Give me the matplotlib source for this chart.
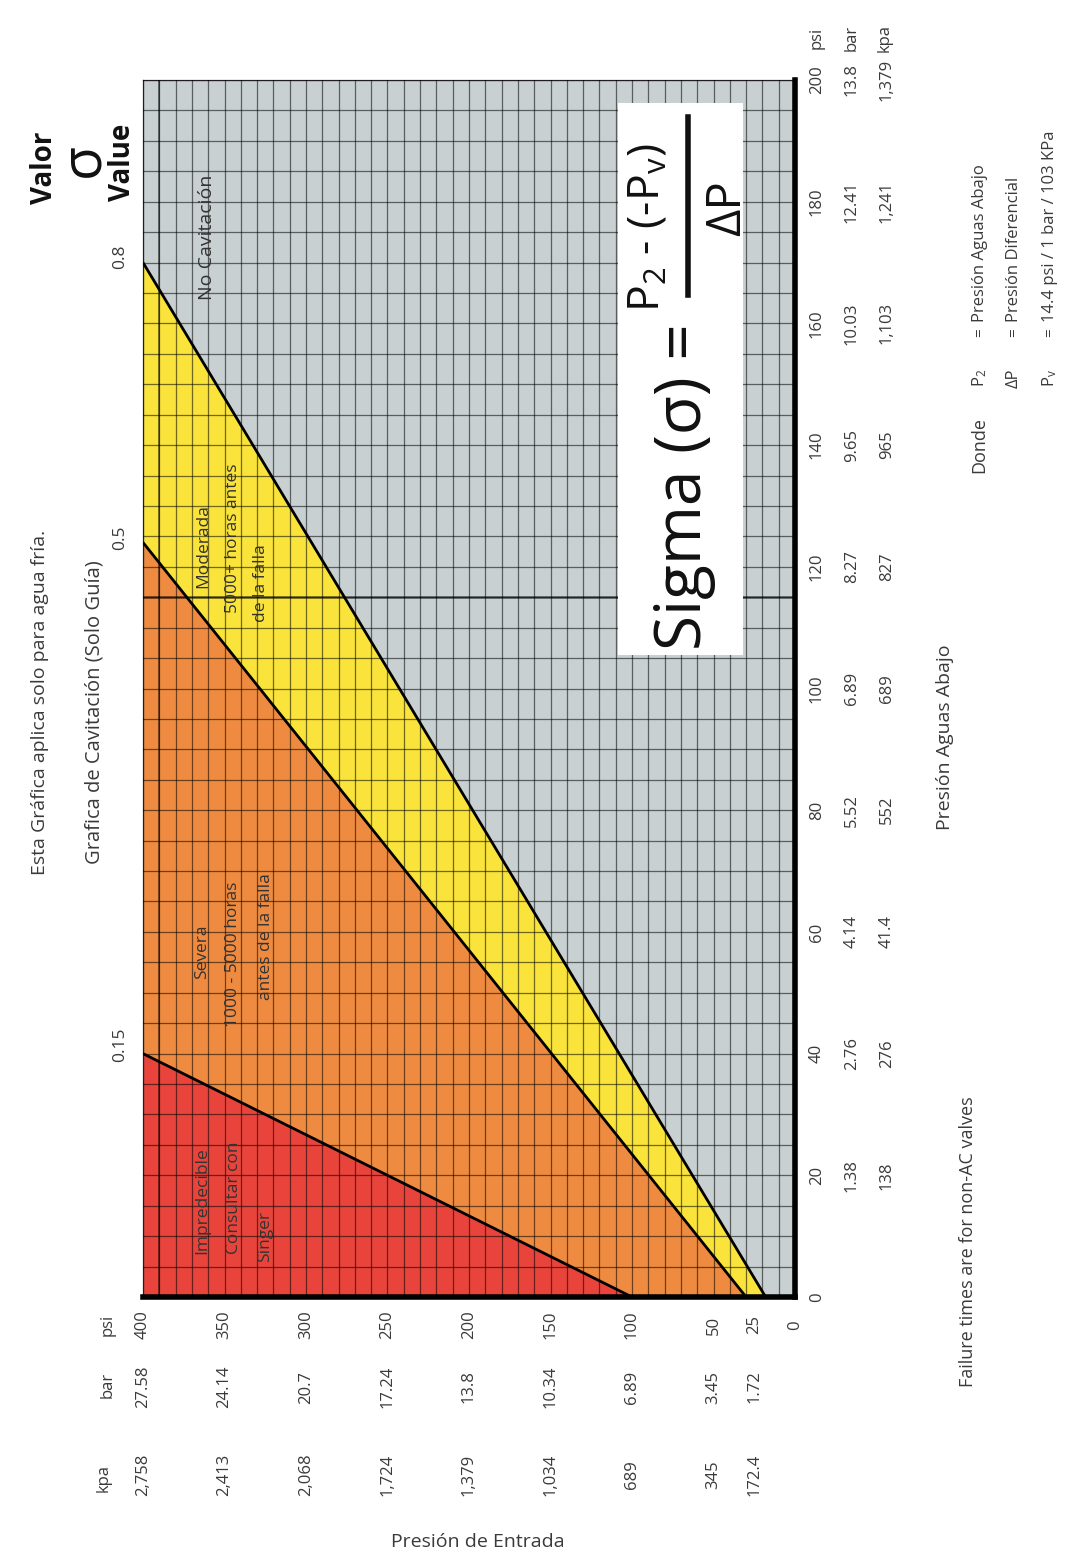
import numpy as np
import matplotlib
matplotlib.use("Agg")
import matplotlib.pyplot as plt
from matplotlib.transforms import blended_transform_factory
from matplotlib.patches import Rectangle
from matplotlib.lines import Line2D

plt.rcParams['font.family'] = ['Open Sans', 'DejaVu Sans']
plt.rcParams['mathtext.fontset'] = 'custom'
plt.rcParams['mathtext.rm'] = 'Open Sans'
plt.rcParams['mathtext.it'] = 'Open Sans:italic'
plt.rcParams['mathtext.bf'] = 'Open Sans:bold'

# ---------------- data ----------------
# Inlet pressure axis (Presión de Entrada)
inlet_psi = [400, 350, 300, 250, 200, 150, 100, 50, 25, 0]
inlet_bar = ['27.58', '24.14', '20.7', '17.24', '13.8', '10.34', '6.89', '3.45', '1.72', '']
inlet_kpa = ['2,758', '2,413', '2,068', '1,724', '1,379', '1,034', '689', '345', '172.4', '']

# Downstream pressure axis (Presión Aguas Abajo)
down_psi = [0, 20, 40, 60, 80, 100, 120, 140, 160, 180, 200]
down_bar = ['', '1.38', '2.76', '4.14', '5.52', '6.89', '8.27', '9.65', '10.03', '12.41', '13.8']
down_kpa = ['', '138', '276', '41.4', '552', '689', '827', '965', '1,103', '1,241', '1,379']

# Sigma boundary lines: (inlet psi, downstream psi) end points
sigma_labels = ['0.15', '0.5', '0.8']
line_inlet = [[100, 400], [30, 400], [18, 400]]
line_down = [[0, 40], [0, 124], [0, 170]]

# Zones (drawn from the largest sigma to the smallest)
zone_colors = ['#e8443c', '#ef8b40', '#fae43c']   # below 0.15, 0.5, 0.8
bg_color = '#c8d0d1'

heavy_grid_down = [115]
heavy_grid_inlet = [390]

# ---------------- figure ----------------
W, H = 1069, 1556
fig = plt.figure(figsize=(W / 100, H / 100), dpi=100)
fig.patch.set_facecolor('white')

L, R, T, B = 143, 795, 80, 1297
ax = fig.add_axes([L / W, 1 - B / H, (R - L) / W, (B - T) / H])
ax.set_xlim(400, 0)
ax.set_ylim(0, 200)
ax.set_facecolor(bg_color)

for i in [2, 1, 0]:
    ax.fill_between(line_inlet[i], line_down[i], 0, color=zone_colors[i], lw=0, zorder=1)

ax.set_xticks(np.arange(0, 401, 10))
ax.set_yticks(np.arange(0, 201, 5))
ax.grid(True, color='black', alpha=0.55, lw=0.9)
ax.set_axisbelow(False)
ax.tick_params(length=0, labelbottom=False, labelleft=False)
for v in heavy_grid_down:
    ax.axhline(v, color='black', alpha=0.6, lw=1.8, zorder=2.6)
for v in heavy_grid_inlet:
    ax.axvline(v, color='black', alpha=0.5, lw=1.4, zorder=2.6)

for i in range(3):
    ax.plot(line_inlet[i], line_down[i], color='black', lw=2.0, zorder=3,
            solid_capstyle='butt')

for s in ['right', 'bottom']:
    ax.spines[s].set_linewidth(4)
    ax.spines[s].set_color('black')
    ax.spines[s].set_zorder(4)
for s in ['left', 'top']:
    ax.spines[s].set_linewidth(0.9)
    ax.spines[s].set_color('#444444')


def ptext(px, py, s, size, ha='center', va='center', rot=90, **kw):
    return fig.text(px / W, 1 - py / H, s, fontsize=size, rotation=rot,
                    rotation_mode='anchor', ha=ha, va=va, **kw)


txt = '#3a3a3a'

# ---- left titles ----
ptext(40, 702, 'Esta Gráfica aplica solo para agua fría.', 14, color=txt)
ptext(95, 712, 'Grafica de Cavitación (Solo Guía)', 14.5, color=txt)
ptext(45, 168, 'Valor', 20, fontweight='bold', color='#111111')
ptext(84, 160, 'σ', 40, color='#111111')
ptext(122, 162, 'Value', 20, fontweight='bold', color='#111111')

sig_y = [1045, 538, 257]
for lab, yy in zip(sigma_labels, sig_y):
    ptext(120, yy, lab, 12.5, color=txt)

# ---- zone labels ----
zone_txt = '#333333'
ptext(207, 237, 'No Cavitación', 14, color=zone_txt)
ptext(203, 546, 'Moderada', 12.5, color=zone_txt)
ptext(233, 538, '5000+ horas antes', 12.5, color=zone_txt)
ptext(261, 583, 'de la falla', 12.5, color=zone_txt)
ptext(202, 952, 'Severa', 12.5, color=zone_txt)
ptext(233, 954, '1000 - 5000 horas', 12.5, color=zone_txt)
ptext(266, 937, 'antes de la falla', 12.5, color=zone_txt)
ptext(202, 1201, 'Impredecible', 12.5, color=zone_txt)
ptext(234, 1198, 'Consultar con', 12.5, color=zone_txt)
ptext(265, 1237, 'Singer', 12.5, color=zone_txt)

# ---- downstream (right) tick labels ----
tr_right = blended_transform_factory(fig.transFigure, ax.transData)
for v, b, k in zip(down_psi, down_bar, down_kpa):
    for px, s in [(817, str(v)), (852, b), (887, k)]:
        if s:
            fig.text(px / W, v, s, transform=tr_right, fontsize=12, rotation=90,
                     rotation_mode='anchor', ha='center', va='center', color=txt)
for px, s in [(817, 'psi'), (852, 'bar'), (885, 'kpa')]:
    ptext(px, 38, s, 12, color=txt)

# ---- inlet (bottom) tick labels ----
tr_bot = blended_transform_factory(ax.transData, fig.transFigure)
for v, b, k in zip(inlet_psi, inlet_bar, inlet_kpa):
    for py, s in [(1325, str(v)), (1387, b), (1475, k)]:
        if s:
            fig.text(v, 1 - py / H, s, transform=tr_bot, fontsize=12, rotation=90,
                     rotation_mode='anchor', ha='center', va='center', color=txt)
for px, py, s in [(108, 1325, 'psi'), (108, 1385, 'bar'), (104, 1478, 'kpa')]:
    ptext(px, py, s, 12, color=txt)

fig.text(478 / W, 1 - 1542 / H, 'Presión de Entrada', fontsize=14, ha='center',
         va='center', color=txt)
ptext(945, 737, 'Presión Aguas Abajo', 14, color=txt)
ptext(968, 1242, 'Failure times are for non-AC valves', 13, color=txt)

# ---- legend of symbols ----
ptext(979, 445, 'Donde', 13, color=txt)
leg_x = [980, 1014, 1050]
leg_sym = ['P$_2$', 'ΔP', 'P$_{\\rm v}$']
leg_desc = ['Presión Aguas Abajo', 'Presión Diferencial', '14.4 psi / 1 bar / 103 KPa']
for x, s, d in zip(leg_x, leg_sym, leg_desc):
    ptext(x, 378, s, 12, color=txt)
    ptext(x, 333, '=', 11, color=txt)
    ptext(x, 322, d, 12, ha='left', color=txt)

# ---- formula box ----
fig.add_artist(Rectangle((618 / W, 1 - 655 / H), (743 - 618) / W, (655 - 103) / H,
                         transform=fig.transFigure, facecolor='white',
                         edgecolor='none', zorder=5))
ptext(701, 650, 'Sigma (σ) =', 46, ha='left', va='baseline', color='#111111', zorder=6)
ptext(659, 312, 'P$_2$ - (-P$_{\\rm v}$)', 32, ha='left', va='baseline',
      color='#111111', zorder=6)
fig.add_artist(Line2D([688 / W, 688 / W], [1 - 117 / H, 1 - 295 / H],
                      transform=fig.transFigure, color='#111111', lw=4, zorder=6))
ptext(740, 208, 'ΔP', 34, ha='center', va='baseline', color='#111111', zorder=6)

fig.savefig('out.png', dpi=100, facecolor='white')
